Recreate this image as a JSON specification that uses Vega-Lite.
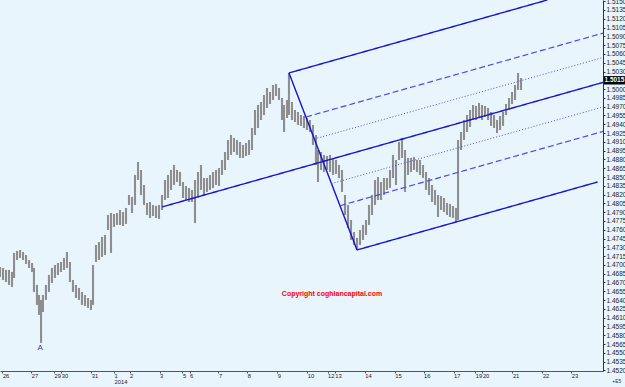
{
  "$schema": "https://vega.github.io/schema/vega-lite/v6.json",
  "width": 603,
  "height": 371,
  "autosize": {"type": "none"},
  "padding": {"left": 0, "top": 0, "right": 22, "bottom": 16},
  "background": "#e8f5fd",
  "config": {"view": {"stroke": null}, "axis": {"labelOverlap": false, "labelFlush": false, "labelBound": false}},
  "datasets": {
    "bars": [
      {"b":0,"h":1.46965,"l":1.46794},{"b":2.5,"h":1.46948,"l":1.46743},{"b":5,"h":1.46914,"l":1.46709},{"b":7.5,"h":1.46914,"l":1.46658},
      {"b":10,"h":1.4688,"l":1.46624},{"b":11.7,"h":1.47204,"l":1.46777},{"b":14.2,"h":1.47238,"l":1.47084},{"b":16.7,"h":1.47255,"l":1.47119},
      {"b":19.2,"h":1.47221,"l":1.47084},{"b":21.7,"h":1.4717,"l":1.47016},{"b":24.2,"h":1.47084,"l":1.46948},{"b":26.7,"h":1.47033,"l":1.4688},
      {"b":28.3,"h":1.46948,"l":1.46539},{"b":30.8,"h":1.46658,"l":1.46317},{"b":32.5,"h":1.46487,"l":1.46146},{"b":34.2,"h":1.46402,"l":1.45669},
      {"b":35.8,"h":1.46487,"l":1.46197},{"b":38.3,"h":1.46658,"l":1.46402},{"b":40.8,"h":1.46829,"l":1.46539},{"b":43.3,"h":1.46948,"l":1.46692},
      {"b":45.8,"h":1.46999,"l":1.46777},{"b":48.3,"h":1.47033,"l":1.46829},{"b":50.8,"h":1.4705,"l":1.4688},{"b":53.3,"h":1.47119,"l":1.46914},
      {"b":55.8,"h":1.47221,"l":1.46948},{"b":58.3,"h":1.4705,"l":1.46709},{"b":60.8,"h":1.46743,"l":1.46539},{"b":63.3,"h":1.46658,"l":1.46436},
      {"b":65.8,"h":1.46607,"l":1.46402},{"b":68.3,"h":1.46539,"l":1.46317},{"b":70.8,"h":1.46487,"l":1.463},{"b":73.3,"h":1.46436,"l":1.46266},
      {"b":75.8,"h":1.46402,"l":1.46231},{"b":77.5,"h":1.46999,"l":1.46317},{"b":80,"h":1.4734,"l":1.4705},{"b":82.5,"h":1.47391,"l":1.47084},
      {"b":85,"h":1.47477,"l":1.47136},{"b":87.5,"h":1.47511,"l":1.4717},{"b":90,"h":1.47852,"l":1.47596},{"b":92.5,"h":1.47886,"l":1.47204},
      {"b":95,"h":1.47869,"l":1.47647},{"b":97.5,"h":1.47886,"l":1.47682},{"b":100,"h":1.47937,"l":1.47682},{"b":102.5,"h":1.47903,"l":1.47664},
      {"b":105,"h":1.47972,"l":1.47699},{"b":107.5,"h":1.48193,"l":1.48023},{"b":110,"h":1.48159,"l":1.47886},{"b":112.5,"h":1.48535,"l":1.48023},
      {"b":115,"h":1.48756,"l":1.48449},{"b":117.5,"h":1.4862,"l":1.48193},{"b":120,"h":1.48364,"l":1.48023},{"b":122.5,"h":1.48057,"l":1.47852},
      {"b":125,"h":1.48074,"l":1.47801},{"b":127.5,"h":1.48023,"l":1.47835},{"b":130,"h":1.48006,"l":1.47801},{"b":132.5,"h":1.48023,"l":1.47784},
      {"b":135,"h":1.48193,"l":1.47937},{"b":137.5,"h":1.48449,"l":1.48108},{"b":140,"h":1.48535,"l":1.48142},{"b":142.5,"h":1.4862,"l":1.48279},
      {"b":145,"h":1.48705,"l":1.48364},{"b":147.5,"h":1.4862,"l":1.48415},{"b":150,"h":1.48586,"l":1.48347},{"b":152.5,"h":1.48415,"l":1.48142},
      {"b":155,"h":1.48347,"l":1.48108},{"b":157.5,"h":1.48313,"l":1.48074},{"b":160,"h":1.48279,"l":1.48074},{"b":162.5,"h":1.48449,"l":1.47716},
      {"b":165,"h":1.48586,"l":1.48142},{"b":167.5,"h":1.48705,"l":1.48279},{"b":170,"h":1.48483,"l":1.48193},{"b":172.5,"h":1.48483,"l":1.48245},
      {"b":175,"h":1.48535,"l":1.48279},{"b":177.5,"h":1.48586,"l":1.48313},{"b":180,"h":1.4862,"l":1.48364},{"b":182.5,"h":1.48654,"l":1.48347},
      {"b":185,"h":1.4879,"l":1.48535},{"b":187.5,"h":1.48927,"l":1.4862},{"b":190,"h":1.49132,"l":1.4879},{"b":192.5,"h":1.49217,"l":1.48876},
      {"b":195,"h":1.49166,"l":1.48927},{"b":197.5,"h":1.49132,"l":1.48876},{"b":200,"h":1.49097,"l":1.48825},{"b":202.5,"h":1.49046,"l":1.48825},
      {"b":205,"h":1.4908,"l":1.48859},{"b":207.5,"h":1.49132,"l":1.48876},{"b":210,"h":1.49336,"l":1.48961},{"b":212.5,"h":1.49643,"l":1.49217},
      {"b":215,"h":1.49729,"l":1.49336},{"b":217.5,"h":1.4978,"l":1.49473},{"b":220,"h":1.49899,"l":1.49558},{"b":222.5,"h":1.50019,"l":1.49678},
      {"b":225,"h":1.49951,"l":1.49746},{"b":227.5,"h":1.5007,"l":1.49814},{"b":230,"h":1.50087,"l":1.49882},{"b":232.5,"h":1.50019,"l":1.49814},
      {"b":235,"h":1.49848,"l":1.49473},{"b":236.7,"h":1.49729,"l":1.49268},{"b":239.2,"h":1.49814,"l":1.49507},{"b":240.8,"h":1.50275,"l":1.49558},
      {"b":243.3,"h":1.4978,"l":1.49473},{"b":245.8,"h":1.49643,"l":1.49439},{"b":248.3,"h":1.49609,"l":1.49388},{"b":250.8,"h":1.49558,"l":1.49371},
      {"b":253.3,"h":1.49541,"l":1.49336},{"b":255.8,"h":1.49507,"l":1.49302},{"b":258.3,"h":1.49473,"l":1.49268},{"b":260.8,"h":1.49388,"l":1.49046},
      {"b":263.3,"h":1.49217,"l":1.48705},{"b":265,"h":1.48961,"l":1.48415},{"b":267.5,"h":1.48927,"l":1.4862},{"b":270,"h":1.48876,"l":1.48586},
      {"b":272.5,"h":1.48859,"l":1.4862},{"b":275,"h":1.48876,"l":1.48586},{"b":277.5,"h":1.48825,"l":1.48535},{"b":280,"h":1.4879,"l":1.48552},
      {"b":282.5,"h":1.48705,"l":1.48483},{"b":285,"h":1.4862,"l":1.48245},{"b":287.5,"h":1.48193,"l":1.47852},{"b":290,"h":1.48023,"l":1.4763},
      {"b":292.5,"h":1.47767,"l":1.47426},{"b":295,"h":1.47562,"l":1.4734},{"b":297.5,"h":1.4746,"l":1.47255},{"b":300,"h":1.47596,"l":1.4734},
      {"b":302.5,"h":1.47682,"l":1.47426},{"b":305,"h":1.47767,"l":1.47511},{"b":307.5,"h":1.48023,"l":1.47682},{"b":310,"h":1.48193,"l":1.47852},
      {"b":312.5,"h":1.48449,"l":1.48023},{"b":315,"h":1.485,"l":1.48108},{"b":317.5,"h":1.48415,"l":1.48108},{"b":320,"h":1.48483,"l":1.48193},
      {"b":322.5,"h":1.48483,"l":1.48279},{"b":325,"h":1.4862,"l":1.48313},{"b":327.5,"h":1.48876,"l":1.48483},{"b":330,"h":1.4879,"l":1.48364},
      {"b":332.5,"h":1.49097,"l":1.4879},{"b":335,"h":1.49166,"l":1.48825},{"b":337.5,"h":1.48961,"l":1.48245},{"b":340,"h":1.48825,"l":1.48535},
      {"b":342.5,"h":1.48825,"l":1.48586},{"b":345,"h":1.48842,"l":1.4862},{"b":347.5,"h":1.4879,"l":1.48586},{"b":350,"h":1.4879,"l":1.48535},
      {"b":352.5,"h":1.48705,"l":1.48483},{"b":355,"h":1.48586,"l":1.48279},{"b":357.5,"h":1.48483,"l":1.48193},{"b":360,"h":1.48364,"l":1.48074},
      {"b":362.5,"h":1.48279,"l":1.48023},{"b":365,"h":1.48193,"l":1.47818},{"b":367.5,"h":1.48176,"l":1.47937},{"b":370,"h":1.48142,"l":1.47903},
      {"b":372.5,"h":1.48057,"l":1.47852},{"b":375,"h":1.4804,"l":1.47818},{"b":377.5,"h":1.48006,"l":1.47801},{"b":380,"h":1.47972,"l":1.47733},
      {"b":381.7,"h":1.49132,"l":1.47767},{"b":384.2,"h":1.49268,"l":1.48961},{"b":386.7,"h":1.49473,"l":1.49132},{"b":389.2,"h":1.49558,"l":1.49268},
      {"b":391.7,"h":1.49643,"l":1.49354},{"b":394.2,"h":1.49729,"l":1.49473},{"b":396.7,"h":1.49712,"l":1.49473},{"b":399.2,"h":1.49763,"l":1.49507},
      {"b":401.7,"h":1.49729,"l":1.49473},{"b":404.2,"h":1.49712,"l":1.49524},{"b":406.7,"h":1.49678,"l":1.49473},{"b":409.2,"h":1.49609,"l":1.49371},
      {"b":411.7,"h":1.49558,"l":1.49336},{"b":414.2,"h":1.49473,"l":1.49251},{"b":416.7,"h":1.49541,"l":1.49302},{"b":419.2,"h":1.49609,"l":1.49371},
      {"b":421.7,"h":1.49746,"l":1.49558},{"b":424.2,"h":1.49848,"l":1.49643},{"b":426.7,"h":1.49951,"l":1.49746},{"b":429.2,"h":1.5007,"l":1.49814},
      {"b":431.7,"h":1.50275,"l":1.49985},{"b":434.2,"h":1.50189,"l":1.49985}
    ],
    "lines": [
      {"kind":"solid","b1":240.8,"p1":1.50275,"b2":297.5,"p2":1.47255},
      {"kind":"solid","b1":240.8,"p1":1.50275,"b2":456.1,"p2":1.5152},
      {"kind":"solid","b1":135,"p1":1.47989,"b2":502.5,"p2":1.50114},
      {"kind":"solid","b1":297.5,"p1":1.47255,"b2":498,"p2":1.48415},
      {"kind":"dashed","b1":255,"p1":1.49524,"b2":502.5,"p2":1.50955},
      {"kind":"dotted","b1":262.1,"p1":1.49149,"b2":502.5,"p2":1.50539},
      {"kind":"dotted","b1":276.25,"p1":1.48388,"b2":502.5,"p2":1.49696},
      {"kind":"dashed","b1":283.3,"p1":1.4801,"b2":502.5,"p2":1.49278}
    ]
  },
  "layer": [
    {
      "data": {"name": "bars"},
      "mark": {"type": "rule", "color": "#8e8e8e", "strokeWidth": 2.1},
      "encoding": {
        "x": {
          "field": "b", "type": "quantitative",
          "scale": {"domain": [0, 502.5], "nice": false, "zero": false},
          "axis": {
            "title": null, "grid": false, "tickCount": 200,
            "values": [2,26,45,51,76,95,108,133,152,158,182,206,231,256,273,279,304,329,353,378,396,402,427,452,476],
            "labelExpr": "datum.value == 95 ? ['1','2014'] : ['26','27','29','30','31','1','2','3','5','6','7','8','9','10','12','13','14','15','16','17','19','20','21','22','23'][indexof([2,26,45,51,76,95,108,133,152,158,182,206,231,256,273,279,304,329,353,378,396,402,427,452,476], datum.value)]",
            "labelAlign": "left", "labelBaseline": "top", "labelFont": "Liberation Sans", "labelFontSize": 5.8, "labelColor": "#222222",
            "labelLineHeight": 6.5, "labelPadding": -1, "labelOverlap": false, "labelFlush": false,
            "tickSize": 2, "tickColor": "#555555", "domainColor": "#555555"
          }
        },
        "y": {
          "field": "h", "type": "quantitative",
          "scale": {"domain": [1.4519, 1.5152], "nice": false, "zero": false},
          "axis": {
            "orient": "right", "title": null, "grid": false, "tickCount": 200,
            "values": [1.452,1.4535,1.455,1.4565,1.458,1.4595,1.461,1.4625,1.464,1.4655,1.467,1.4685,1.47,1.4715,1.473,1.4745,1.476,1.4775,1.479,1.4805,1.482,1.4835,1.485,1.4865,1.488,1.4895,1.491,1.4925,1.494,1.4955,1.497,1.4985,1.5,1.5015,1.503,1.5045,1.506,1.5075,1.509,1.5105,1.512,1.5135,1.515],
            "format": ".4f", "labelFont": "Liberation Sans", "labelFontSize": 6.5, "labelColor": "#222222",
            "labelPadding": 1, "labelOverlap": false, "labelFlush": false,
            "tickSize": 2, "tickColor": "#333333", "domainColor": "#333333"
          }
        },
        "y2": {"field": "l"}
      }
    },
    {
      "data": {"name": "lines"},
      "mark": {"type": "rule", "clip": true},
      "encoding": {
        "x": {"field": "b1", "type": "quantitative", "title": null, "scale": {"domain": [0, 502.5], "nice": false, "zero": false}},
        "x2": {"field": "b2"},
        "y": {"field": "p1", "type": "quantitative", "title": null, "scale": {"domain": [1.4519, 1.5152], "nice": false, "zero": false}},
        "y2": {"field": "p2"},
        "color": {"field": "kind", "type": "nominal", "legend": null, "scale": {"domain": ["solid","dashed","dotted"], "range": ["#1414cc","#4b4be8","#4b4be8"]}},
        "strokeDash": {"field": "kind", "type": "nominal", "legend": null, "scale": {"domain": ["solid","dashed","dotted"], "range": [[1,0],[6,3],[1,2]]}},
        "strokeWidth": {"field": "kind", "type": "nominal", "legend": null, "scale": {"domain": ["solid","dashed","dotted"], "range": [1.4,1,1]}}
      }
    },
    {
      "data": {"values": [{"b": 33.5, "p": 1.4558, "t": "A"}]},
      "mark": {"type": "text", "color": "#3636d6", "font": "Liberation Sans", "fontSize": 8, "baseline": "middle", "align": "center"},
      "encoding": {
        "x": {"field": "b", "type": "quantitative", "title": null},
        "y": {"field": "p", "type": "quantitative", "title": null},
        "text": {"field": "t"}
      }
    },
    {
      "data": {"values": [{"b": 276.7, "p": 1.46504, "t": "Copyright coghlancapital.com"}]},
      "mark": {"type": "text", "color": "#ff0000", "font": "Liberation Sans", "fontWeight": "bold", "fontSize": 7, "baseline": "middle", "align": "center"},
      "encoding": {
        "x": {"field": "b", "type": "quantitative", "title": null},
        "y": {"field": "p", "type": "quantitative", "title": null},
        "text": {"field": "t"}
      }
    },
    {
      "data": {"values": [{"b": 514, "p": 1.4502, "t": "+E5"}]},
      "mark": {"type": "text", "color": "#333333", "font": "Liberation Sans", "fontSize": 5, "baseline": "middle", "align": "center", "clip": false},
      "encoding": {
        "x": {"field": "b", "type": "quantitative", "title": null},
        "y": {"field": "p", "type": "quantitative", "title": null},
        "text": {"field": "t"}
      }
    },
    {
      "data": {"values": [{"b": 512, "p": 1.5015, "t": "1.5015"}]},
      "layer": [
        {
          "mark": {"type": "point", "shape": "M-1,-0.4H1V0.4H-1Z", "size": 441, "filled": true, "color": "#000000", "opacity": 1, "clip": false},
          "encoding": {
            "x": {"field": "b", "type": "quantitative", "title": null},
            "y": {"field": "p", "type": "quantitative", "title": null}
          }
        },
        {
          "mark": {"type": "text", "color": "#ffffff", "font": "Liberation Sans", "fontSize": 6.5, "fontWeight": "bold", "baseline": "middle", "align": "center"},
          "encoding": {
            "x": {"field": "b", "type": "quantitative", "title": null},
            "y": {"field": "p", "type": "quantitative", "title": null},
            "text": {"field": "t"}
          }
        }
      ]
    }
  ]
}
